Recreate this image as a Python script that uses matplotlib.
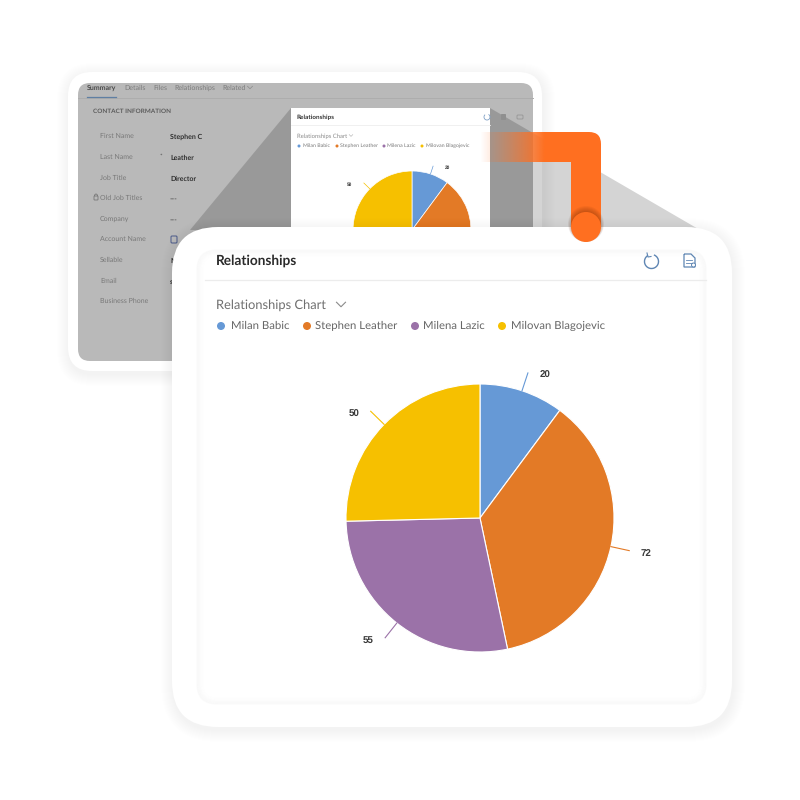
import matplotlib
matplotlib.use("Agg")
import matplotlib.pyplot as plt
import numpy as np
from matplotlib.patches import Circle, FancyBboxPatch, PathPatch, Polygon, Rectangle, Arc
from matplotlib.path import Path

plt.rcParams['font.family'] = ['Lato', 'DejaVu Sans']
plt.rcParams['text.hinting'] = 'no_hinting'

# chart data
names = ['Milan Babic', 'Stephen Leather', 'Milena Lazic', 'Milovan Blagojevic']
values = [20, 72, 55, 50]
colors = ['#6699d6', '#e37a26', '#9b72a8', '#f6c000']

# the blurred contact form behind the chart
tabs = ['Summary', 'Details', 'Files', 'Relationships', 'Related']
tab_x = [87, 124, 153, 174, 222]
form_labels = ['First Name', 'Last Name', 'Job Title', 'Old Job Titles', 'Company',
               'Account Name', 'Sellable', 'Email', 'Business Phone']
form_values = ['Stephen C', 'Leather', 'Director', '---', '---', '', 'No', 'stephen', '']
form_y = [136, 157, 178, 198, 219, 239, 260, 281, 301]

big_legend_dot = [221, 307, 415, 502]
big_legend_txt = [231, 315, 423, 511]
small_legend_dot = [299, 337, 384, 422]
small_legend_txt = [303, 340, 387, 426]

SIZE = 800


def px_axes(zorder):
    ax = fig.add_axes([0, 0, 1, 1], zorder=zorder)
    ax.set_xlim(0, SIZE)
    ax.set_ylim(SIZE, 0)
    ax.axis('off')
    return ax


def round_box(ax, x0, y0, x1, y1, r, **kw):
    box = FancyBboxPatch((x0 + r, y0 + r), x1 - x0 - 2 * r, y1 - y0 - 2 * r,
                         boxstyle='round,pad=%s,rounding_size=%s' % (r, r), **kw)
    ax.add_patch(box)
    return box


def card(ax, x0, y0, x1, y1, r, spread=12):
    # soft drop shadow, then the white card
    for i in range(spread, 0, -1):
        round_box(ax, x0 - i + 1, y0 - i + 3, x1 + i + 1, y1 + i + 3, r + i,
                  fc='black', ec='none', alpha=0.005)
    round_box(ax, x0, y0, x1, y1, r, fc='white', ec='none')


def chevron(ax, x, y, w, color, lw):
    ax.plot([x - w, x, x + w], [y - w / 2, y + w / 2, y - w / 2], color=color, lw=lw)


def draw_pie(left, top, r, margin, font, lw_line, label_gap):
    # pie axes: r is the radius in pixels, margin the extra room for the labels
    span = r * margin
    ax = fig.add_axes([(left - span) / SIZE, 1 - (top + span) / SIZE,
                       2 * span / SIZE, 2 * span / SIZE])
    wedges, _ = ax.pie(values, colors=colors, startangle=90, counterclock=False, radius=1,
                       wedgeprops={'edgecolor': 'white', 'linewidth': lw_line})
    ax.set_xlim(-margin, margin)
    ax.set_ylim(-margin, margin)
    ax.axis('off')
    for w, v, c in zip(wedges, values, colors):
        ang = np.deg2rad((w.theta1 + w.theta2) / 2)
        cx, cy = np.cos(ang), np.sin(ang)
        ax.plot([cx, 1.14 * cx], [cy, 1.14 * cy], color=c, lw=lw_line, clip_on=False)
        side = 1 if cx > 0 else -1
        ax.text(1.14 * cx + side * label_gap, 1.14 * cy - 0.02, str(v), ha='center', va='center',
                fontsize=font, fontweight='bold', family='Liberation Sans', color='#3a3a3a')
    return ax


fig = plt.figure(figsize=(8, 8), dpi=100, facecolor='white')

# back card
back = px_axes(1)
card(back, 68, 72, 542, 371, 24)
round_box(back, 78, 83, 533, 361, 12, fc='#b9b9b9', ec='none')
back.plot([78, 533], [98, 98], color='#adadad', lw=0.7)
for t, x in zip(tabs, tab_x):
    back.text(x, 88, t, fontsize=5, va='center', color='#4a4a4a' if t == 'Summary' else '#7c7c7c',
              fontweight='bold' if t == 'Summary' else 'normal')
back.plot([87, 116], [97, 97], color='#5f7fa3', lw=0.9)
chevron(back, 250, 87.5, 2.5, '#8a8a8a', 0.5)
back.text(93, 111, 'CONTACT INFORMATION', fontsize=4.6, va='center', color='#5c5c5c',
          fontweight='bold')
clip = Rectangle((78, 83), 455, 220, transform=back.transData)
for lab, val, y in zip(form_labels, form_values, form_y):
    back.text(100, y, lab, fontsize=5, va='center', color='#787878', clip_path=clip)
    if val:
        back.text(170, y + 0.5, val, fontsize=5, va='center', color='#2f2f2f',
                  fontweight='bold' if val != '---' else 'normal')
back.text(160.5, 156, '*', fontsize=4.5, va='center', ha='center', color='#555555')
round_box(back, 94, 196, 98, 200, 0.5, fc='none', ec='#6a6a6a', lw=0.5)
back.add_patch(Arc((96, 196), 3, 4, theta1=180, theta2=360, ec='#6a6a6a', lw=0.5))
round_box(back, 171, 236, 177, 243, 1, fc='none', ec='#4a5a8a', lw=0.7)

# projection wedges from the small panel towards the front card
back.add_patch(Polygon([(291, 108), (190, 230), (291, 230)], fc='black', ec='none', alpha=0.17))
back.add_patch(Polygon([(490, 108), (700, 230), (490, 230)], fc='black', ec='none', alpha=0.17))

# small panel
back.add_patch(Rectangle((291, 108), 199, 125, fc='white', ec='none'))
back.text(296, 117, 'Relationships', fontsize=4.6, va='center', color='#333333', fontweight='bold')
back.plot([291, 490], [125, 125], color='#eeeeee', lw=0.6)
back.text(297, 136, 'Relationships Chart', fontsize=4.2, va='center', color='#8a8a8a')
chevron(back, 351, 135.5, 1.8, '#aaaaaa', 0.4)
for n, c, dx, tx in zip(names, colors, small_legend_dot, small_legend_txt):
    back.add_patch(Circle((dx, 146), 1.5, fc=c, ec='none'))
    back.text(tx, 146, n, fontsize=3.8, va='center', color='#777777')
back.add_patch(Arc((487, 117), 6, 6, theta1=-60, theta2=230, ec='#7f9fc4', lw=0.6))
round_box(back, 501, 114, 506, 120, 0.8, fc='#8f8f8f', ec='none')
round_box(back, 517, 115, 523, 119, 0.8, fc='none', ec='#8f8f8f', lw=0.5)

# small pie, cut off by the front card
small = draw_pie(412, 230, 59, 1.45, 3.4, 0.5, 0.24)
small.set_zorder(2)

# front card
front = px_axes(3)
front.patch.set_alpha(0)
card(front, 172, 227, 732, 727, 46)
round_box(front, 197, 250, 706, 704, 20, fc='white', ec='none')
for i in range(7):
    round_box(front, 197 + i, 250 + i, 706 - i, 704 - i, max(20 - i, 4), fc='none',
              ec='black', lw=1.0, alpha=0.02 * (7 - i) / 7)
front.plot([205, 706], [280, 280], color='#ececec', lw=0.9)
front.text(216, 260.5, 'Relationships', fontsize=9.8, va='center', color='#2b2b2b',
           fontweight='bold')
front.text(216, 305.5, 'Relationships Chart', fontsize=9.3, va='center', color='#6f6f6f')
chevron(front, 341, 304.5, 4.5, '#8a8a8a', 0.8)
for n, c, dx, tx in zip(names, colors, big_legend_dot, big_legend_txt):
    front.add_patch(Circle((dx, 326), 4, fc=c, ec='none'))
    front.text(tx, 326, n, fontsize=8.2, va='center', color='#666666')

# toolbar icons
front.add_patch(Arc((651.5, 261.5), 14, 14, theta1=-70, theta2=240, ec='#5f86b3', lw=1.0))
front.plot([647, 648, 651], [253, 257, 256.5], color='#5f86b3', lw=0.8)
doc = Path([(684, 254), (691, 254), (695, 258), (695, 267), (684, 267), (684, 254)])
front.add_patch(PathPatch(doc, fc='none', ec='#5f86b3', lw=0.9))
front.plot([686, 692], [260, 260], color='#5f86b3', lw=0.6)
front.plot([686, 692], [262.5, 262.5], color='#5f86b3', lw=0.6)
front.add_patch(Circle((693.5, 265), 2, fc='white', ec='#5f86b3', lw=0.7))

# main pie
big = draw_pie(480, 518, 134, 1.4, 7, 0.8, 0.125)
big.set_zorder(4)

# orange connector
over = px_axes(5)
over.patch.set_alpha(0)
ORANGE = '#ff6f20'
grad = np.zeros((1, 256, 4))
grad[..., :3] = matplotlib.colors.to_rgb(ORANGE)
grad[..., 3] = np.linspace(0, 1, 256) ** 1.1
over.imshow(grad, extent=(480, 545, 162, 132), aspect='auto', zorder=1)
over.set_xlim(0, SIZE)
over.set_ylim(SIZE, 0)
bend = Path([(545, 132), (589, 132), (601, 132), (601, 144), (601, 227), (571, 227), (571, 162),
             (545, 162), (545, 132)],
            [Path.MOVETO, Path.LINETO, Path.CURVE3, Path.CURVE3, Path.LINETO, Path.LINETO,
             Path.LINETO, Path.LINETO, Path.CLOSEPOLY])
over.add_patch(PathPatch(bend, fc=ORANGE, ec='none', zorder=2))
shade_clip = Rectangle((571, 190), 30, 40, transform=over.transData)
for i in range(6):
    over.add_patch(Circle((586, 226 - i * 0.4), 15 + i * 0.6, fc='#5a2000', ec='none',
                          alpha=0.06, zorder=3, clip_path=shade_clip))
over.add_patch(Circle((586, 227), 15, fc=ORANGE, ec='none', zorder=4))

fig.savefig('out.png', dpi=100)
